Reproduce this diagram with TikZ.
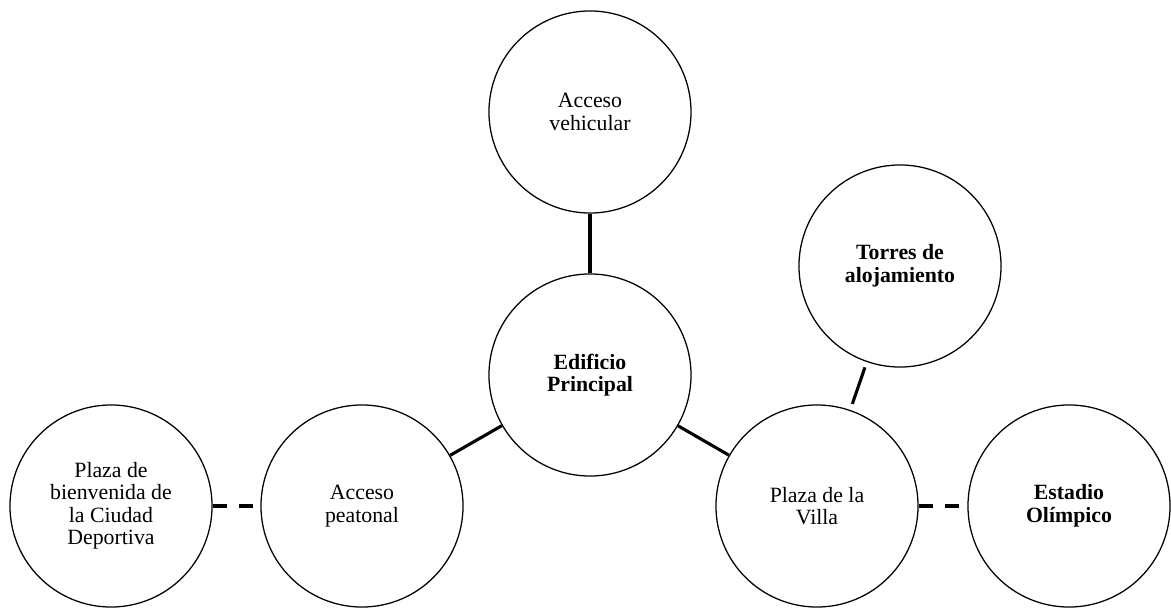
\documentclass[tikz,border=0pt]{standalone}
\usepackage{fontspec}
\setmainfont{Liberation Serif}
\begin{document}
\begin{tikzpicture}[x=0.025cm, y=-0.025cm,
    font=\fontsize{15.5}{16}\selectfont,
    zona/.style={draw, circle, line width=0.9pt, minimum size=5.05cm,
                 inner sep=0pt, align=center},
    zonab/.style={zona, font=\fontsize{15.5}{16}\selectfont\bfseries},
    enlace/.style={line width=2.2pt},
    enlaced/.style={line width=2.4pt, dash pattern=on 10.5pt off 8pt}
]
    \useasboundingbox (0,0) rectangle (1171,610);

    % Circles (pixel grid of the sketch)
    \node[zona]  (veh)     at (590,112)  {Acceso\\vehicular};
    \node[zonab] (edif)    at (590,375)  {Edificio\\Principal};
    \node[zonab] (torres)  at (900,266)  {Torres de\\alojamiento};
    \node[zona]  (bienv)   at (111,506)  {Plaza de\\bienvenida de\\la Ciudad\\Deportiva};
    \node[zona]  (peat)    at (362,506)  {Acceso\\peatonal};
    \node[zona]  (villa)   at (817,506)  {Plaza de la\\Villa};
    \node[zonab] (estadio) at (1069,506) {Estadio\\Olímpico};

    % Connectors
    \draw[enlace] (veh) -- (edif);
    \draw[enlace] (edif) -- (peat);
    \draw[enlace] (edif) -- (villa);
    \draw[enlace, shorten <=0.14cm, shorten >=0.16cm] (torres) -- (villa);
    \draw[enlaced] (bienv) -- (peat);
    \draw[enlaced] (villa) -- (estadio);
\end{tikzpicture}
\end{document}
